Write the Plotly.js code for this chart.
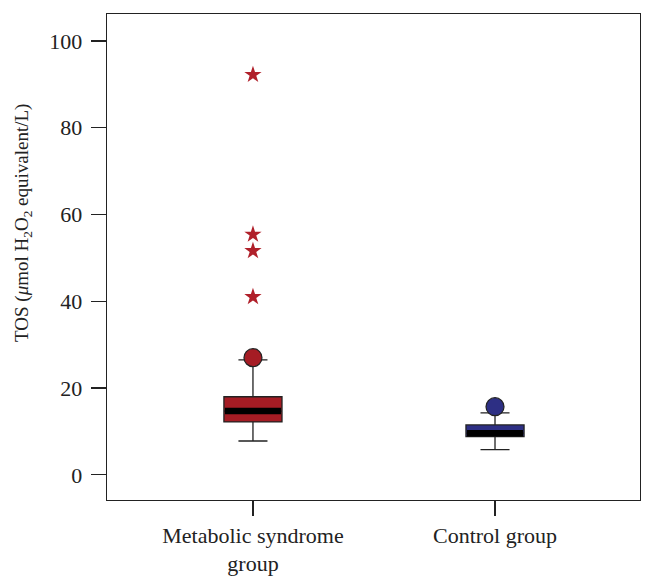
<!DOCTYPE html>
<html>
<head>
<meta charset="utf-8">
<script src="https://cdn.plot.ly/plotly-3.0.1.min.js"></script>
<style>html,body{margin:0;padding:0;background:#fff;}#chart{width:656px;height:585px;}</style>
</head>
<body>
<div id="chart"></div>
<script>
// Data
const groups = ["Metabolic syndrome<br>group", "Control group"];
const q1 = [12.2, 8.8];
const medians = [14.7, 9.6];
const q3 = [18.0, 11.5];
const lowerWhisker = [7.8, 5.8];
const upperWhisker = [26.5, 14.3];
const circleOutliers = [27.0, 15.7];
const starOutliersMS = [92.2, 55.4, 51.6, 41.0];
const yTicks = [0, 20, 40, 60, 80, 100];

const colors = ["#a51c24", "#2d2f84"];
const serif = "Liberation Serif, Times New Roman, serif";

const traces = [];
groups.forEach((g, i) => {
  traces.push({
    type: "box",
    x: [g],
    q1: [q1[i]], median: [medians[i]], q3: [q3[i]],
    lowerfence: [lowerWhisker[i]], upperfence: [upperWhisker[i]],
    width: 0.24,
    whiskerwidth: 0.5,
    fillcolor: colors[i],
    line: {color: "#222", width: 1.3},
    hoverinfo: "skip",
    showlegend: false
  });
});
// thick black median bands
traces.push({
  type: "scatter", mode: "markers",
  x: groups, y: medians,
  marker: {symbol: "line-ew", size: 40, line: {color: "#000", width: 6.5}},
  showlegend: false, hoverinfo: "skip"
});
// circle outliers
groups.forEach((g, i) => {
  traces.push({
    type: "scatter", mode: "markers",
    x: [g], y: [circleOutliers[i]],
    marker: {symbol: "circle", size: 18, color: colors[i], line: {color: "#222", width: 1.2}},
    showlegend: false, hoverinfo: "skip"
  });
});
// star outliers (metabolic syndrome group)
traces.push({
  type: "scatter", mode: "markers",
  x: starOutliersMS.map(() => groups[0]), y: starOutliersMS,
  marker: {symbol: "star", size: 13, color: "#b0202a", line: {width: 0}},
  showlegend: false, hoverinfo: "skip"
});

const layout = {
  width: 656, height: 585,
  margin: {l: 107, r: 16, t: 14, b: 85},
  paper_bgcolor: "#fff", plot_bgcolor: "#fff",
  showlegend: false,
  boxmode: "overlay",
  font: {family: serif, color: "#222", size: 22},
  xaxis: {
    type: "category",
    range: [-0.603, 1.599],
    showgrid: false, zeroline: false,
    showline: true, mirror: true, linecolor: "#222", linewidth: 1.3,
    ticks: "outside", ticklen: 15, tickwidth: 1.3, tickcolor: "#222",
    tickfont: {family: serif, size: 22, color: "#222"},
    fixedrange: true
  },
  yaxis: {
    range: [-5.8, 106.2],
    tickvals: yTicks,
    showgrid: false, zeroline: false,
    showline: true, mirror: true, linecolor: "#222", linewidth: 1.3,
    ticks: "outside", ticklen: 15, tickwidth: 1.3, tickcolor: "#222",
    ticklabelstandoff: 4,
    tickfont: {family: serif, size: 22, color: "#222"},
    fixedrange: true
  },
  annotations: [{
    text: "TOS (<i>μ</i>mol H<sub>2</sub>O<sub>2</sub> equivalent/L)",
    xref: "paper", yref: "paper",
    x: 0, xshift: -84, y: 0.57,
    xanchor: "center", yanchor: "middle",
    textangle: -90, showarrow: false,
    font: {family: serif, size: 19, color: "#222"}
  }]
};

Plotly.newPlot("chart", traces, layout, {displayModeBar: false, staticPlot: true});
</script>
</body>
</html>
